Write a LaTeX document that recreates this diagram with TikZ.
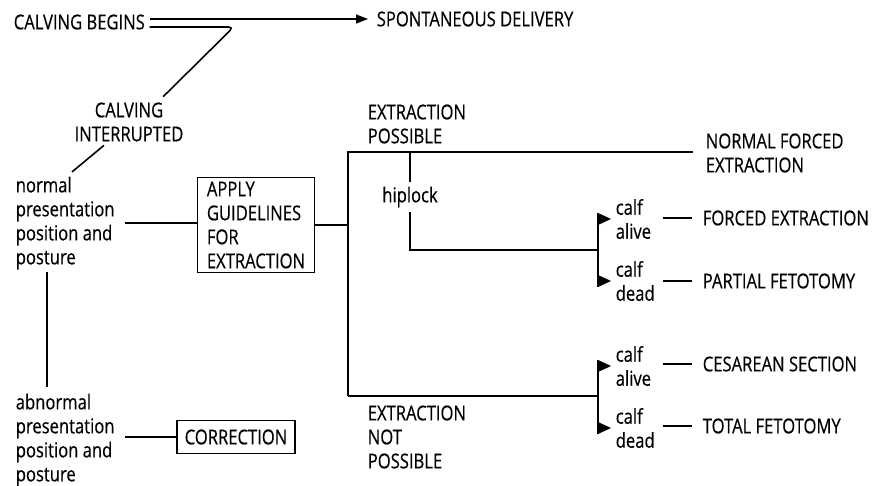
\documentclass[tikz,border=0pt]{standalone}
\usepackage{fontspec}
\setmainfont{Open Sans}[FakeStretch=0.81,UprightFeatures={FakeBold=0.4}]
\usetikzlibrary{arrows.meta,calc,positioning}

\begin{document}
\begin{tikzpicture}[x=1pt,y=-1pt,line width=1.6pt,
  every node/.style={font=\fontsize{20.5}{24}\selectfont},
  txt/.style={inner sep=0pt,align=left,anchor=west},
  box/.style={draw,inner sep=0pt,align=left}]
  \useasboundingbox (0,0) rectangle (877,486);
  % left column
  \node[txt] (begins) at (13,22) {CALVING BEGINS};
  \node[txt] (spont) at (376,19) {SPONTANEOUS DELIVERY};
  \node[inner sep=0pt,align=center] (interr) at (129,122) {CALVING\\INTERRUPTED};
  \node[txt] (normal) at (15,223) {normal\\presentation\\position and\\posture};
  \node[txt] (abn) at (15,440) {abnormal\\presentation\\position and\\posture};
  \node[box,minimum width=117pt,minimum height=95pt] (apply) at (256,225) {APPLY\\GUIDELINES\\FOR\\EXTRACTION};
  \node[box,minimum width=118pt,minimum height=33pt] (corr) at (236,437) {CORRECTION};
  % middle
  \node[txt] (expos) at (367,124) {EXTRACTION\\POSSIBLE};
  \node[txt] (exnot) at (367,437) {EXTRACTION\\NOT\\POSSIBLE};
  \node[inner sep=4pt] (hiplock) at (410,197) {hiplock};
  % right column
  \node[txt] (nfe) at (705,153) {NORMAL FORCED\\EXTRACTION};
  \node[txt] (ca1) at (615,219) {calf\\alive};
  \node[txt] (cd1) at (615,281) {calf\\dead};
  \node[txt] (ca2) at (615,366) {calf\\alive};
  \node[txt] (cd2) at (615,428) {calf\\dead};
  \node[txt] (fe) at (702,218) {FORCED EXTRACTION};
  \node[txt] (pf) at (702,281) {PARTIAL FETOTOMY};
  \node[txt] (cs) at (702,364) {CESAREAN SECTION};
  \node[txt] (tf) at (702,426) {TOTAL FETOTOMY};
  \coordinate (top) at (348,152);
  \coordinate (bot) at (348,396);
  \coordinate (br1) at (598,250);
  % connectors
  \draw[-{Triangle[length=12pt,width=9pt]}] ([xshift=4pt,yshift=3pt]begins.east) -- ([xshift=-8pt]spont.west);
  \draw[rounded corners=5pt] ([xshift=4pt,yshift=-5pt]begins.east) -- ++(84,0)
    -- ([xshift=-21pt,yshift=5pt]interr.north east);
  \draw ([xshift=-25pt,yshift=-3pt]interr.south) -- ([xshift=57pt,yshift=4pt]normal.north west);
  \draw ([xshift=32pt,yshift=-2pt]normal.south west) -- ([xshift=32pt,yshift=6pt]abn.north west);
  \draw ([xshift=10pt]normal.east) -- (normal.east -| apply.west);
  \draw ([xshift=10pt]abn.east |- corr.west) -- (corr.west);
  \draw (apply.east) -- (apply.east -| top);
  \draw (bot) -- (top) -- ([xshift=-12pt]nfe.west |- top);
  \draw (top -| hiplock) -- (hiplock.north);
  \draw (hiplock.south) |- (br1);
  \draw (bot) -- (bot -| br1);
  \draw ([xshift=-17pt,yshift=6pt]ca1.west) -- ([xshift=-17pt,yshift=-6pt]cd1.west);
  \draw ([xshift=-17pt,yshift=6pt]ca2.west) -- ([xshift=-17pt,yshift=-6pt]cd2.west);
  \foreach \n in {ca1,cd1,ca2,cd2}
    \fill ([xshift=-17pt,yshift=6pt]\n.west) -- ([xshift=-4pt]\n.west)
      -- ([xshift=-17pt,yshift=-6pt]\n.west) -- cycle;
  \foreach \a in {fe,pf,cs,tf}
    \draw ([xshift=-39pt]\a.west) -- ([xshift=-10pt]\a.west);
\end{tikzpicture}
\end{document}
